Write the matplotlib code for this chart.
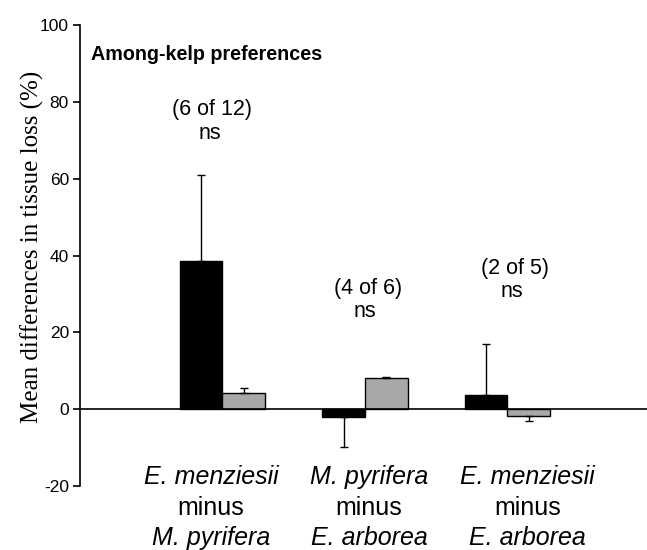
import numpy as np
import matplotlib.pyplot as plt

# data
groups = np.array([0, 1, 2])
black_vals = [38.5, -2.0, 3.6]
black_err = [22.5, 7.9, 13.4]
gray_vals = [4.1, 8.0, -1.7]
gray_err = [1.4, 0.5, 1.4]
counts = ["(6 of 12)", "(4 of 6)", "(2 of 5)"]
signif = ["ns", "ns", "ns"]
label_top = ["E. menziesii", "M. pyrifera", "E. menziesii"]
label_bot = ["M. pyrifera", "E. arborea", "E. arborea"]
yticks = [-20, 0, 20, 40, 60, 80, 100]

plt.rcParams["font.family"] = ["Liberation Sans", "DejaVu Sans"]


def one_sided(vals, errs):
    # errors drawn only away from zero
    lo = [e if v < 0 else 0 for v, e in zip(vals, errs)]
    hi = [e if v >= 0 else 0 for v, e in zip(vals, errs)]
    return [lo, hi]


fig = plt.figure(figsize=(6.47, 5.5), dpi=100)
ax = fig.add_axes([80 / 647, 1 - 486 / 550, 1 - 80 / 647, (486 - 25) / 550])

w = 0.30
ekw = dict(ecolor="black", elinewidth=1.0, capsize=3, capthick=1.0)
ax.bar(groups - w / 2, black_vals, w, color="black", edgecolor="black",
       linewidth=1.0, yerr=one_sided(black_vals, black_err), error_kw=ekw, zorder=2)
ax.bar(groups + w / 2, gray_vals, w, color="#a8a8a8", edgecolor="black",
       linewidth=1.0, yerr=one_sided(gray_vals, gray_err), error_kw=ekw, zorder=2)

ax.axhline(0, color="black", lw=1.2, zorder=3)

ax.set_xlim(-1.0, 2.98)
ax.set_ylim(-20, 100)
ax.set_yticks(yticks)
ax.set_yticklabels([str(t) for t in yticks], fontsize=12.5)
ax.set_xticks([])
for s in ["top", "right", "bottom"]:
    ax.spines[s].set_visible(False)
ax.spines["left"].set_linewidth(1.2)
ax.tick_params(axis="y", direction="out", length=5, width=1.2, pad=3)

ax.set_ylabel("Mean differences in tissue loss (%)", family="Liberation Serif",
              fontsize=18)
ax.yaxis.set_label_coords(-0.064, 0.518)

ax.text(-0.92, 92.2, "Among-kelp preferences", fontsize=14.2, fontweight="bold",
        ha="left", va="center")

count_x = [-0.07, 1.02, 2.05]
count_y = [77.9, 31.5, 36.7]
for x, y, c, s in zip(count_x, count_y, counts, signif):
    ax.text(x, y, c, fontsize=15.5, ha="center", va="center")
    ax.text(x - 0.02, y - 6.1, s, fontsize=15.5, ha="center", va="center")

lab_x = [-0.08, 1.03, 2.14]
for x, t, b in zip(lab_x, label_top, label_bot):
    ax.text(x, -17.7, t, fontsize=18, style="italic", ha="center", va="center", clip_on=False)
    ax.text(x, -25.8, "minus", fontsize=18, ha="center", va="center", clip_on=False)
    ax.text(x, -33.6, b, fontsize=18, style="italic", ha="center", va="center", clip_on=False)

fig.savefig("out.png", dpi=100)
